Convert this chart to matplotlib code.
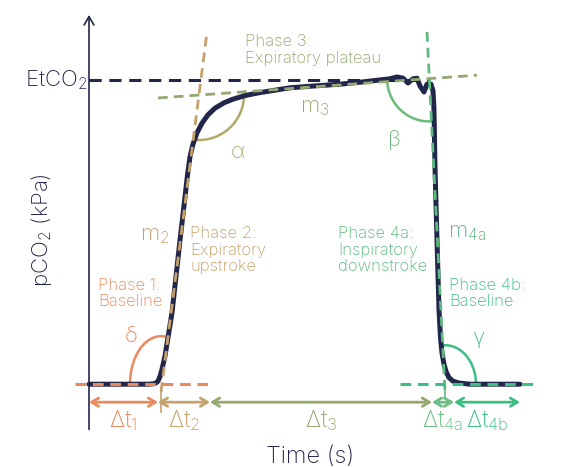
import numpy as np
import matplotlib
matplotlib.use("Agg")
import matplotlib.pyplot as plt

plt.rcParams['font.family'] = ['Inter', 'DejaVu Sans']
plt.rcParams['font.weight'] = 'light'
plt.rcParams['mathtext.default'] = 'regular'

# capnogram trace: time (s), pCO2 (kPa)
t = [0.0, 1.20, 1.32, 1.38, 1.42, 1.46, 1.52, 1.66, 1.82, 1.92, 1.97, 2.02, 2.08, 2.16,
     2.26, 2.38, 2.52, 2.70, 2.88, 3.12, 3.42, 3.72, 4.02, 4.50, 5.02, 5.50, 6.02, 6.16,
     6.28, 6.38, 6.48, 6.56, 6.62, 6.70, 6.76, 6.84, 6.88, 6.90, 6.92, 6.96, 7.00, 7.03,
     7.06, 7.10, 7.15, 7.20, 7.28, 7.40, 7.62, 8.62]
pco2 = [0.03, 0.03, 0.04, 0.08, 0.16, 0.28, 0.50, 1.22, 2.43, 3.15, 3.52, 3.82, 4.03, 4.22,
        4.38, 4.52, 4.63, 4.72, 4.78, 4.84, 4.89, 4.93, 4.97, 5.00, 5.03, 5.07, 5.12, 5.15,
        5.13, 5.05, 5.12, 5.13, 5.00, 4.90, 5.03, 5.03, 4.92, 4.60, 3.65, 2.43, 1.27, 0.80,
        0.55, 0.36, 0.22, 0.14, 0.08, 0.05, 0.03, 0.03]

etco2 = 5.1
# phase boundaries on the time axis
bounds = [0.0, 1.38, 2.42, 6.86, 7.30, 8.62]
dt_labels = ['Δt$_1$', 'Δt$_2$', 'Δt$_3$', 'Δt$_{4a}$', 'Δt$_{4b}$']

navy = '#22264a'
orange = '#e88a5c'
tan = '#c4a06a'
olive = '#94a870'
olive_tan = '#b3a96e'
green4a = '#5db97f'
green4b = '#3dbf84'
dt_colors = [orange, tan, olive, '#6cbd85', green4b]

fig = plt.figure(figsize=(5.69, 4.67), dpi=100)
ax = fig.add_axes([0, 0, 1, 1])
ax.set_xlim(-1.78, 9.6)
ax.set_ylim(-1.35, 6.433)
ax.axis('off')

# axes with open arrow heads
ax.annotate('', xy=(0, 6.23), xytext=(0, -0.77),
            arrowprops=dict(arrowstyle='->,head_length=0.6,head_width=0.35', color=navy, lw=1.2))
ax.annotate('', xy=(9.72, 0), xytext=(-0.74, 0),
            arrowprops=dict(arrowstyle='->,head_length=0.6,head_width=0.35', color=navy, lw=1.2))

# EtCO2 line
ax.plot([0, 6.82], [etco2, etco2], color=navy, lw=2.2, dashes=(4, 2.5), zorder=2)

# trace
ax.plot(t, pco2, color=navy, lw=3.6, solid_capstyle='round', solid_joinstyle='round', zorder=3)

# tangent / baseline lines
ax.plot([-0.28, 2.46], [0.03, 0.03], color=orange, lw=2.2, dashes=(3.5, 2.2), zorder=4)
ax.plot([1.44, 2.36], [-0.10, 5.90], color=tan, lw=2.0, dashes=(3.5, 2.2), zorder=4)
ax.plot([1.38, 7.76], [4.80, 5.18], color=olive, lw=2.0, dashes=(3.5, 2.2), zorder=4)
ax.plot([6.76, 7.12], [5.90, -0.10], color=green4a, lw=2.0, dashes=(3.5, 2.2), zorder=4)
ax.plot([6.22, 8.98], [0.03, 0.03], color=green4b, lw=2.2, dashes=(3.5, 2.2), zorder=4)

# angle arcs
def arc(cx, cy, rx, ry, a0, a1, color):
    th = np.radians(np.linspace(a0, a1, 60))
    ax.plot(cx + rx * np.cos(th), cy + ry * np.sin(th), color=color, lw=1.8, zorder=2)

arc(1.44, 0.03, 0.62, 0.80, 82.7, 180, orange)
arc(2.20, 4.85, 0.90, 0.75, -93, 3, olive_tan)
arc(6.80, 5.13, 0.84, 0.72, 186, 274, '#6cbb7c')
arc(7.12, 0.03, 0.62, 0.65, 0, 93, green4b)

# symbols
fs_sym = 16
ax.text(0.84, 0.83, 'δ', color=orange, fontsize=fs_sym, ha='center', va='center')
ax.text(2.98, 3.9, 'α', color=olive_tan, fontsize=fs_sym, ha='center', va='center')
ax.text(6.12, 4.1, 'β', color='#6cbb7c', fontsize=fs_sym, ha='center', va='center')
ax.text(7.78, 0.8, 'γ', color=green4b, fontsize=fs_sym, ha='center', va='center')
ax.text(1.32, 2.5, 'm$_2$', color=tan, fontsize=fs_sym, ha='center', va='center')
ax.text(4.52, 4.63, 'm$_3$', color=olive, fontsize=fs_sym, ha='center', va='center')
ax.text(7.55, 2.55, 'm$_{4a}$', color=green4a, fontsize=fs_sym, ha='center', va='center')

# phase labels
fs_ph = 12
ax.text(3.12, 5.86, 'Phase 3:\nExpiratory plateau', color=olive, fontsize=fs_ph,
        ha='left', va='top', linespacing=1.1)
ax.text(2.02, 2.66, 'Phase 2:\nExpiratory\nupstroke', color=tan, fontsize=fs_ph,
        ha='left', va='top', linespacing=1.1)
ax.text(0.18, 1.8, 'Phase 1:\nBaseline', color=orange, fontsize=fs_ph,
        ha='left', va='top', linespacing=1.1)
ax.text(4.98, 2.66, 'Phase 4a:\nInspiratory\ndownstroke', color=green4a, fontsize=fs_ph,
        ha='left', va='top', linespacing=1.1)
ax.text(7.2, 1.8, 'Phase 4b:\nBaseline', color=green4b, fontsize=fs_ph,
        ha='left', va='top', linespacing=1.1)

# time intervals
for i in range(5):
    ax.annotate('', xy=(bounds[i], -0.27), xytext=(bounds[i + 1], -0.27),
                arrowprops=dict(arrowstyle='<->,head_length=0.5,head_width=0.3',
                                color=dt_colors[i], lw=2.0, shrinkA=0, shrinkB=0))
    ax.text((bounds[i] + bounds[i + 1]) / 2, -0.58, dt_labels[i], color=dt_colors[i],
            fontsize=17, ha='center', va='center')
ax.plot([1.44, 1.44], [-0.03, -0.43], color=tan, lw=1.2)
ax.plot([7.12, 7.12], [-0.03, -0.2], color=green4a, lw=1.2)

# axis labels
ax.text(-0.04, etco2, 'EtCO$_2$', color=navy, fontsize=16, ha='right', va='center')
ax.text(-0.94, 2.6, 'pCO$_2$ (kPa)', color=navy, fontsize=16, ha='center', va='center',
        rotation=90)
ax.text(4.42, -1.18, 'Time (s)', color=navy, fontsize=17, ha='center', va='center')

fig.savefig('out.png', dpi=100)
